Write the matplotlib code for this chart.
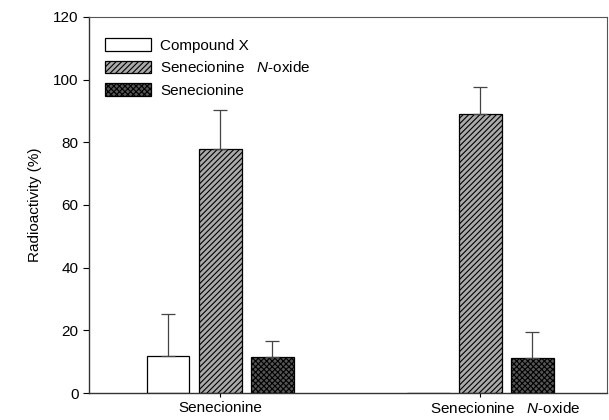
import numpy as np
import matplotlib.pyplot as plt
from matplotlib.transforms import ScaledTranslation

plt.rcParams["font.family"] = ["Liberation Sans", "DejaVu Sans"]
plt.rcParams["mathtext.fontset"] = "custom"
plt.rcParams["mathtext.it"] = "Liberation Sans:italic"
plt.rcParams["hatch.linewidth"] = 0.8

# Data
groups = ["Senecionine", "Senecionine   $\\it{N}$-oxide"]
series = ["Compound X", "Senecionine   $\\it{N}$-oxide", "Senecionine"]
compound_x = [11.8, 0.0]
compound_x_err = [13.4, 0.0]
n_oxide = [77.8, 89.0]
n_oxide_err = [12.4, 8.5]
senecionine = [11.5, 11.3]
senecionine_err = [5.1, 8.3]

values = [compound_x, n_oxide, senecionine]
errors = [compound_x_err, n_oxide_err, senecionine_err]
styles = [
    dict(facecolor="white", hatch=None),
    dict(facecolor="#aaaaaa", hatch="//////"),
    dict(facecolor="#555555", hatch="xxxxxx"),
]

fig = plt.figure(figsize=(6.09, 4.2), dpi=100)
ax = fig.add_axes([0.146, 0.064, 0.851, 0.896])

x = np.arange(len(groups))
width = 0.165
offsets = [-0.2, 0.0, 0.2]

for vals, errs, off, style, label in zip(values, errors, offsets, styles, series):
    xs = x + off
    ax.bar(xs, vals, width=width, edgecolor="black", linewidth=0.9,
           label=label, zorder=2, **style)
    for xi, v, e in zip(xs, vals, errs):
        if v > 0:
            ax.errorbar(xi, v, yerr=[[0], [e]], fmt="none", ecolor="#444444",
                        elinewidth=0.9, capsize=5, capthick=0.9, zorder=3)

ax.set_xlim(-0.504, 1.488)
ax.set_ylim(0, 120)
ax.set_yticks(range(0, 121, 20))
ax.set_xticks(x)
ax.set_xticklabels(groups, fontsize=11)
ax.tick_params(axis="y", labelsize=11, direction="out", length=4, width=0.8)
ax.tick_params(axis="x", direction="out", length=3, width=0.8, pad=3)
ax.set_ylabel("Radioactivity (%)", fontsize=11, labelpad=8)

# second group label sits a little right of its tick
lab = ax.get_xticklabels()[1]
lab.set_transform(lab.get_transform() + ScaledTranslation(0.25, 0, fig.dpi_scale_trans))

for side in ["left", "bottom"]:
    ax.spines[side].set_linewidth(1.0)
    ax.spines[side].set_color("#333333")
for side in ["top", "right"]:
    ax.spines[side].set_linewidth(0.8)
    ax.spines[side].set_color("#555555")

ax.legend(loc="upper left", bbox_to_anchor=(0.005, 0.98), frameon=False,
          fontsize=11, handlelength=3.0, handleheight=0.9,
          handletextpad=0.6, labelspacing=0.5)

plt.savefig("out.png", dpi=100, facecolor="white")
